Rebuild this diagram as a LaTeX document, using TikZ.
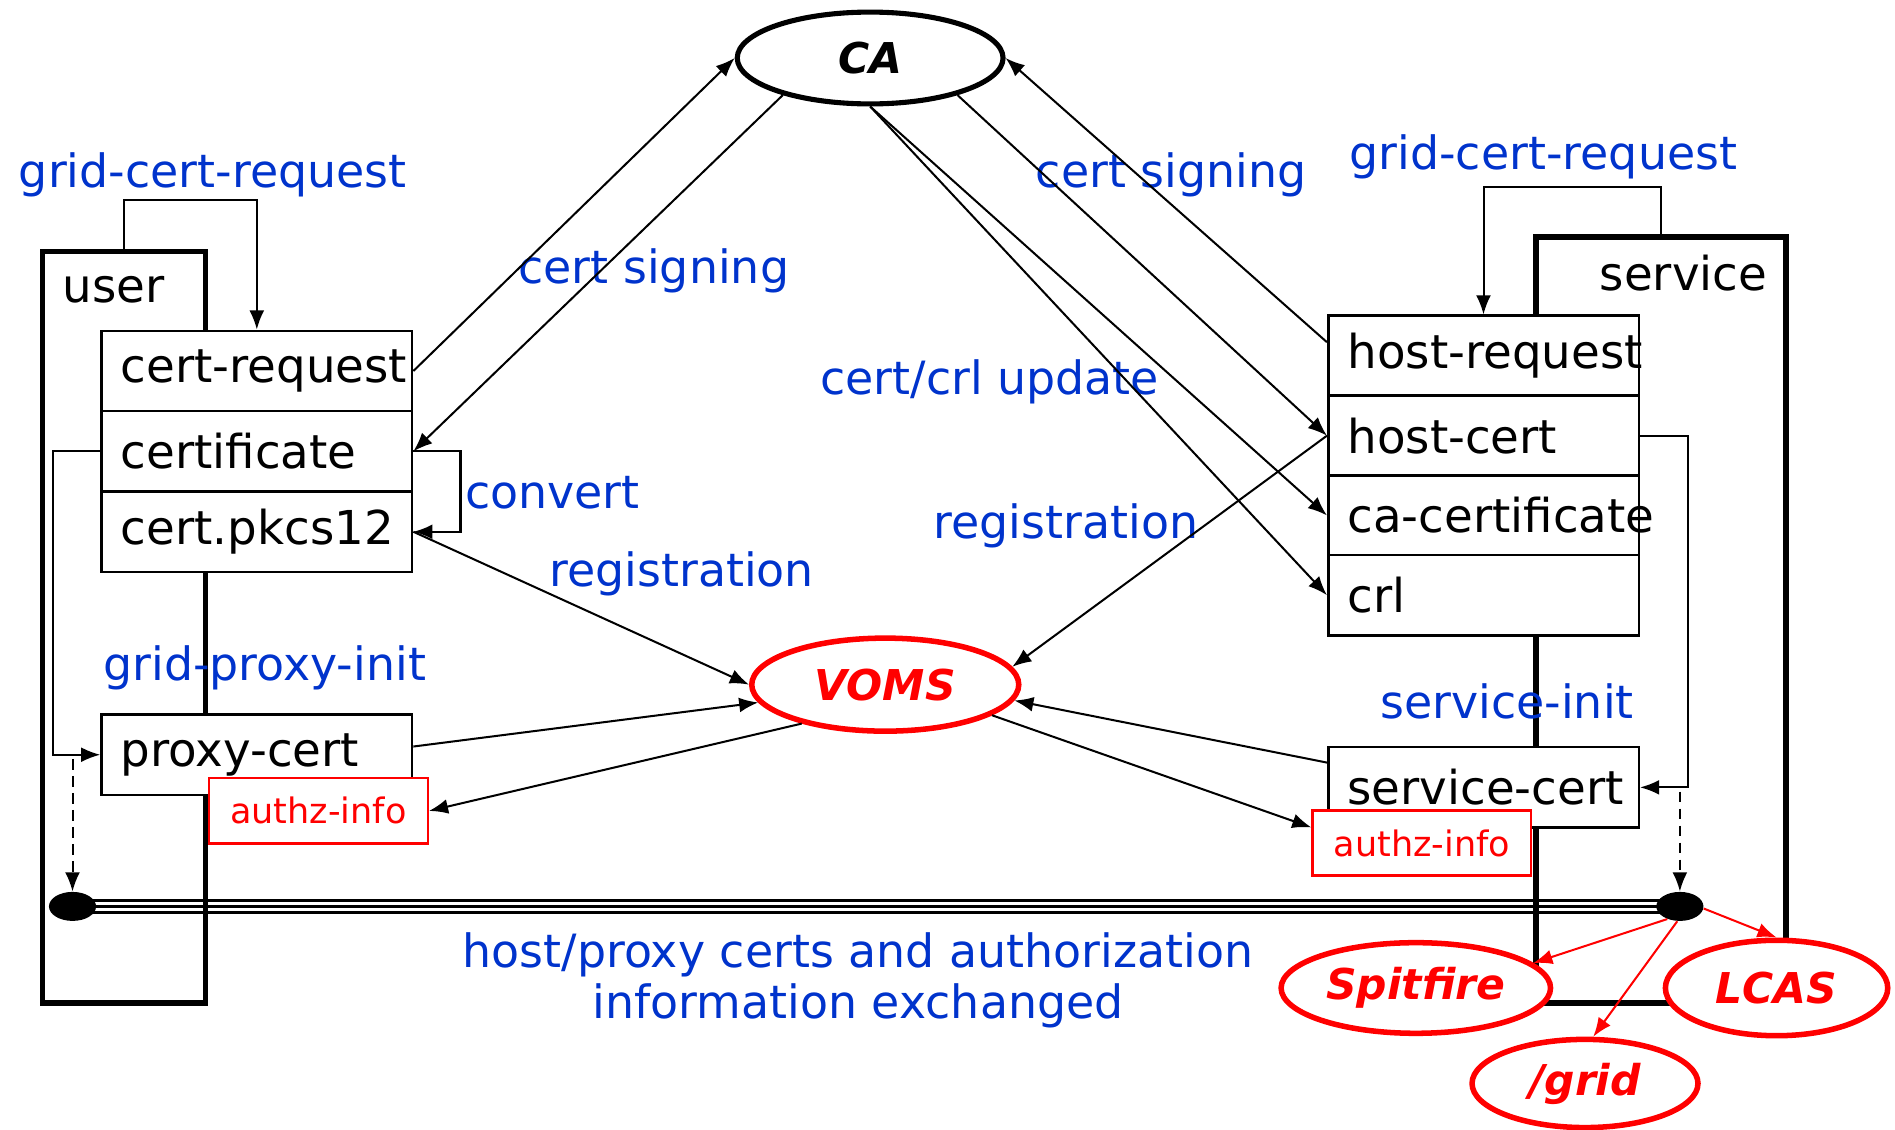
\documentclass[tikz,border=0pt]{standalone}
\usepackage{fontspec}
\setmainfont{DejaVu Sans}
\usetikzlibrary{shapes.geometric,arrows.meta}
\definecolor{labelblue}{RGB}{0,51,204}
\definecolor{vomsred}{RGB}{255,0,0}
\tikzset{
  frame/.style={draw, line width=2.6pt},
  ftext/.style={font=\fontsize{22}{26}\selectfont},
  cbox/.style={draw, fill=white, line width=1.2pt, text width=4.5cm, inner xsep=0.32cm, align=left,
    minimum height=1.33cm, font=\fontsize{22}{26}\selectfont, execute at begin node={\exhyphenpenalty=10000\hbadness=10000\hfuzz=100pt}},
  authz/.style={draw=vomsred, fill=white, text=vomsred, line width=1.1pt, minimum width=3.62cm,
    minimum height=1.08cm, font=\fontsize{16.5}{20}\selectfont},
  blab/.style={text=labelblue, font=\fontsize{21.6}{24}\selectfont},
  oval/.style={ellipse, draw, fill=white, line width=2.4pt, inner sep=0pt, font=\fontsize{20}{24}\selectfont\bfseries\itshape},
  redoval/.style={oval, draw=vomsred, text=vomsred, line width=2.6pt},
  dot/.style={ellipse, fill=black, minimum width=0.78cm, minimum height=0.48cm, inner sep=0pt},
  flow/.style={->, line width=0.95pt},
  redflow/.style={flow, draw=vomsred},
  busline/.style={line width=1.3pt},
  >={Latex[length=9pt,width=7pt]}
}
\begin{document}
\begin{tikzpicture}[x=0.02cm, y=-0.02cm]
\useasboundingbox (0,0) rectangle (1568,935);

% Riquadri utente e servizio
\node[frame, minimum width=2.7cm, minimum height=12.44cm] (user) at (102.5,519) {};
\node[frame, minimum width=4.14cm, minimum height=12.68cm] (service) at (1374.5,513) {};
\node[ftext] (userlbl) at (94,240) {user};
\node[ftext] (servlbl) at (1393,226) {service};

% Canale di scambio
\node[dot] (udot) at (60,750) {};
\node[dot] (sdot) at (1390,750) {};
\foreach \s in {-2.9,0,2.9}
  \draw[busline] ([yshift=\s pt]udot.center) -- ([yshift=\s pt]sdot.center);

% Etichette blu
\node[blab] (gcrl) at (176,145) {grid-cert-request};
\node[blab] (gcrr) at (1277,130) {grid-cert-request};
\node[blab] (signl) at (541,224) {cert signing};
\node[blab] (signr) at (969,145) {cert signing};
\node[blab] (update) at (819,316) {cert/crl update};
\node[blab] (convert) at (457,408) {convert};
\node[blab] (regl) at (564,475) {registration};
\node[blab] (regr) at (882,435) {registration};
\node[blab] (gpi) at (219,553) {grid-proxy-init};
\node[blab] (sinit) at (1247,580) {service-init};
\node[blab, align=center] (buslbl) at (710,811) {host/proxy certs and authorization\\information exchanged};

% Certificati utente
\node[cbox] (certreq) at (212.5,307) {cert-request};
\node[cbox] (cert) at (212.5,373.5) {certificate};
\node[cbox] (pkcs) at (212.5,440) {cert.pkcs12};
\node[cbox] (proxy) at (212.5,624.5) {proxy-cert};
\node[authz] (authzu) at (263.5,671) {authz-info};

% Certificati servizio
\node[cbox] (hostreq) at (1227.5,294.5) {host-request};
\node[cbox] (hostcert) at (1227.5,360.5) {host-cert};
\node[cbox] (cacert) at (1227.5,426.5) {ca-certificate};
\node[cbox] (crl) at (1227.5,492.5) {crl};
\node[cbox] (servcert) at (1227.5,651.5) {service-cert};
\node[authz] (authzs) at (1176.5,697.5) {authz-info};

% Ellissi
\node[oval, minimum width=4.4cm, minimum height=1.52cm] (ca) at (720,48) {CA};
\node[redoval, minimum width=4.42cm, minimum height=1.54cm] (voms) at (732.5,566.5) {VOMS};
\node[redoval, minimum width=4.46cm, minimum height=1.5cm] (spitfire) at (1171.5,817.5) {Spitfire};
\node[redoval, minimum width=3.68cm, minimum height=1.58cm] (lcas) at (1470,817.5) {LCAS};
\node[redoval, minimum width=3.74cm, minimum height=1.46cm] (gridn) at (1311.5,896.5) {/grid};

% Anelli locali
\draw[flow] (user.north) -- ++(0,-40) -| (certreq.north);
\draw[flow] (service.north) -- ++(0,-39) -| (hostreq.north);
\draw[flow] (cert.east) -- ++(39,0) |- (pkcs.east);
\draw[flow] (cert.west) -- ++(-39,0) |- (proxy.west);
\draw[flow] (hostcert.east) -- ++(40,0) |- (servcert.east);
\coordinate (ustart) at (60,628);
\coordinate (sstart) at (1390,655);
\draw[flow, dash pattern=on 5pt off 3pt] (ustart) -- (udot.north);
\draw[flow, dash pattern=on 5pt off 3pt] (sstart) -- (sdot.north);

% Verso e dalla CA
\draw[flow] (certreq.east) -- (ca.west);
\draw[flow] (ca.203) -- (cert.east);
\draw[flow] (hostreq.175) -- (ca.east);
\draw[flow] (ca.337) -- (hostcert.west);
\draw[flow] (ca.south) -- (cacert.west);
\draw[flow] (ca.south) -- (crl.west);

% Verso e dal VOMS
\draw[flow] (pkcs.east) -- (voms.west);
\draw[flow] (proxy.3) -- (voms.188);
\draw[flow] (voms.205) -- (authzu.east);
\draw[flow] (hostcert.west) -- (voms.8);
\draw[flow] (servcert.171) -- (voms.353);
\draw[flow] (voms.344) -- (authzs.172);

% Autorizzazione locale
\draw[redflow] (sdot.225) -- (spitfire.12);
\draw[redflow] (sdot.260) -- (gridn.80);
\draw[redflow] (sdot.355) -- (lcas.north);
\end{tikzpicture}
\end{document}
